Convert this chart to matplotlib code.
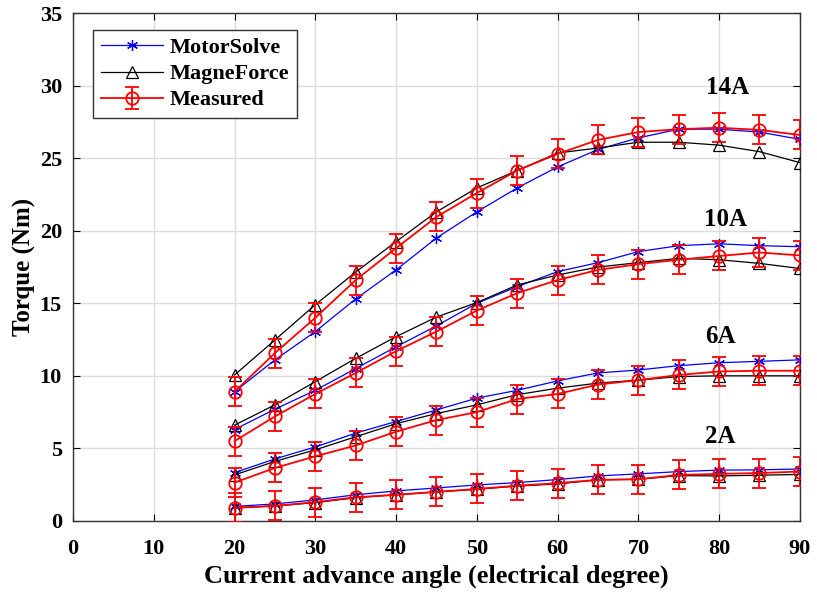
import matplotlib.pyplot as plt
import numpy as np

angle = [20, 25, 30, 35, 40, 45, 50, 55, 60, 65, 70, 75, 80, 85, 90]

# MotorSolve simulation (Nm)
ms_2a = [1.0, 1.17, 1.45, 1.8, 2.07, 2.27, 2.48, 2.64, 2.85, 3.1, 3.24, 3.4, 3.5, 3.52, 3.58]
ms_6a = [3.33, 4.27, 5.1, 6.05, 6.85, 7.65, 8.46, 9.0, 9.65, 10.2, 10.4, 10.7, 10.9, 11.0, 11.1]
ms_10a = [6.3, 7.7, 9.0, 10.5, 12.0, 13.44, 15.0, 16.15, 17.18, 17.8, 18.56, 18.97, 19.1, 18.97, 18.9]
ms_14a = [8.9, 11.1, 13.05, 15.3, 17.3, 19.5, 21.3, 22.95, 24.4, 25.6, 26.4, 27.0, 27.0, 26.8, 26.3]

# MagneForce simulation (Nm)
mf_2a = [0.9, 1.03, 1.26, 1.6, 1.8, 2.0, 2.18, 2.4, 2.55, 2.83, 2.87, 3.12, 3.1, 3.15, 3.2]
mf_6a = [3.17, 4.1, 4.9, 5.8, 6.7, 7.4, 8.0, 8.7, 9.15, 9.5, 9.7, 9.95, 10.0, 10.0, 10.0]
mf_10a = [6.6, 8.0, 9.6, 11.2, 12.7, 14.05, 15.05, 16.26, 16.95, 17.5, 17.8, 18.1, 18.0, 17.75, 17.4]
mf_14a = [10.06, 12.47, 14.9, 17.15, 19.25, 21.3, 22.95, 24.15, 25.36, 25.7, 26.1, 26.1, 25.9, 25.45, 24.7]

# Measured torque (Nm) and error
meas_2a = [0.9, 1.03, 1.3, 1.63, 1.8, 2.0, 2.2, 2.43, 2.6, 2.83, 2.87, 3.17, 3.24, 3.3, 3.4]
meas_6a = [2.64, 3.65, 4.45, 5.2, 6.15, 6.95, 7.5, 8.4, 8.75, 9.4, 9.7, 10.06, 10.3, 10.35, 10.35]
meas_10a = [5.5, 7.2, 8.75, 10.2, 11.7, 13.05, 14.5, 15.7, 16.6, 17.3, 17.7, 18.0, 18.26, 18.5, 18.3]
meas_14a = [8.9, 11.57, 14.0, 16.6, 18.8, 20.95, 22.6, 24.15, 25.3, 26.26, 26.8, 27.0, 27.1, 26.95, 26.6]
meas_err = [1.0] * len(angle)

current_labels = ["2A", "6A", "10A", "14A"]
label_pos = [(80.2, 5.8), (80.2, 12.7), (80.8, 20.8), (81.0, 29.9)]

plt.rcParams['font.family'] = ['Liberation Serif', 'DejaVu Serif']
plt.rcParams['xtick.direction'] = 'in'
plt.rcParams['ytick.direction'] = 'in'

fig = plt.figure(figsize=(8.17, 5.96), dpi=100)
ax = fig.add_axes([0.0894, 0.126, 0.8896, 0.852])

asterisk = (6, 2, 0)
for ms, mf, meas in zip([ms_2a, ms_6a, ms_10a, ms_14a],
                        [mf_2a, mf_6a, mf_10a, mf_14a],
                        [meas_2a, meas_6a, meas_10a, meas_14a]):
    h1, = ax.plot(angle, ms, color='#0000ff', lw=0.9, marker=asterisk,
                  ms=8, mew=0.9, zorder=3)
    h2, = ax.plot(angle, mf, color='black', lw=0.9, marker='^', ms=9,
                  mfc='none', mew=0.9, zorder=3)
    h3 = ax.errorbar(angle, meas, yerr=meas_err, color='#ff0000', lw=1.3,
                     marker='o', ms=9, mfc='none', mew=1.3, capsize=5,
                     elinewidth=1.3, capthick=1.3, zorder=4)

for txt, (x, y) in zip(current_labels, label_pos):
    ax.text(x, y, txt, fontsize=18, fontweight='bold', ha='center', va='center')

ax.set_xlim(0, 90)
ax.set_ylim(0, 35)
ax.set_xticks(np.arange(0, 91, 10))
ax.set_yticks(np.arange(0, 36, 5))
ax.tick_params(labelsize=16, top=True, right=True, length=5, width=0.8)
ax.tick_params(axis='x', pad=13)
ax.tick_params(axis='y', pad=8)
for lbl in ax.get_xticklabels() + ax.get_yticklabels():
    lbl.set_fontweight('bold')
ax.grid(True, color='#dcdcdc', lw=1.0)
ax.set_axisbelow(True)
for sp in ax.spines.values():
    sp.set_color('#333333')
    sp.set_linewidth(1.0)

ax.set_xlabel("Current advance angle (electrical degree)", fontsize=19,
              fontweight='bold', labelpad=4)
ax.set_ylabel("Torque (Nm)", fontsize=18, fontweight='bold', labelpad=3)

leg = ax.legend([h1, h2, h3], ["MotorSolve", "MagneForce", "Measured"],
                loc='upper left', bbox_to_anchor=(0.0275, 0.967),
                prop={'size': 16, 'weight': 'bold'}, fancybox=False,
                edgecolor='#333333', framealpha=1, handlelength=2.8,
                borderpad=0.35, labelspacing=0.25, handletextpad=0.3,
                borderaxespad=0)
leg.get_frame().set_linewidth(1.0)

fig.savefig('out.png', dpi=100)
plt.close(fig)
